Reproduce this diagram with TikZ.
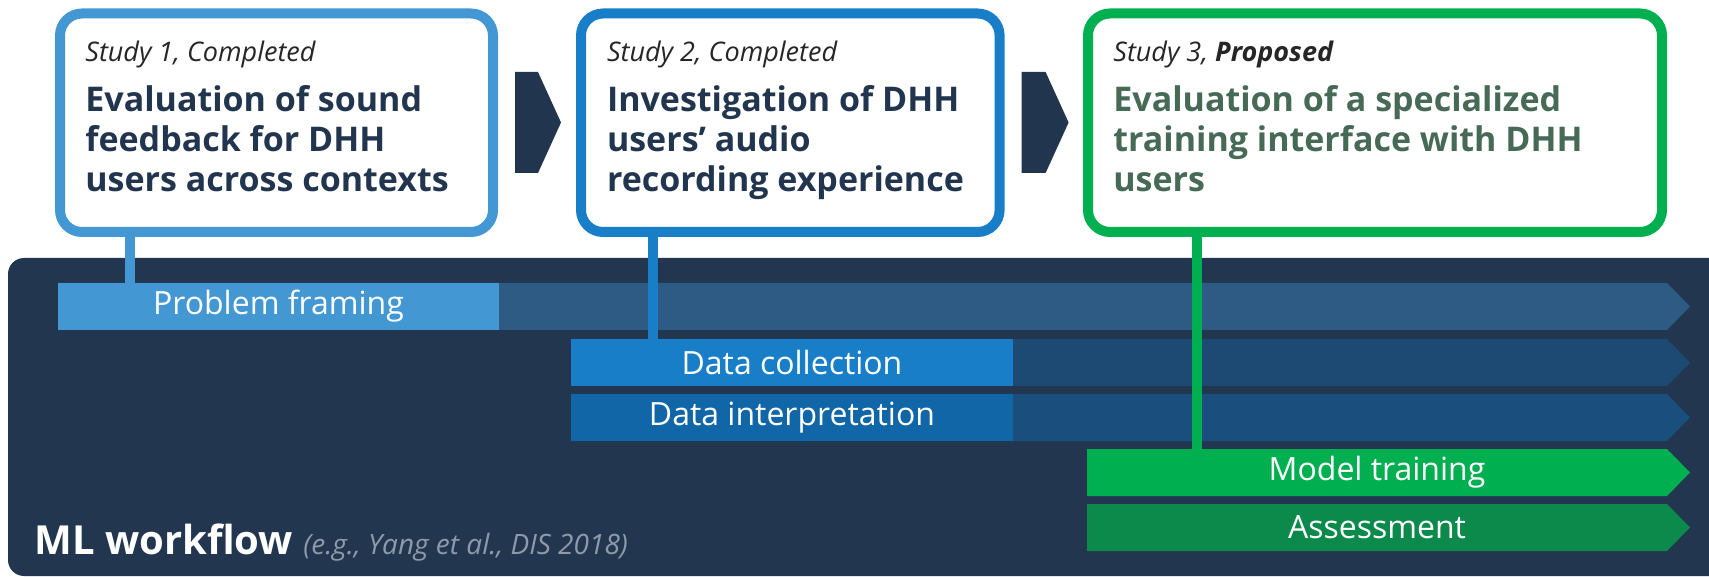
\documentclass[tikz,border=0pt]{standalone}
\usepackage{fontspec}
\usepackage{xcolor}
\usepackage{tikz}
\setmainfont{Open Sans}

\definecolor{panelnavy}{HTML}{22364F}
\definecolor{titlenavy}{HTML}{22354F}
\definecolor{studyone}{HTML}{4397D2}
\definecolor{studytwo}{HTML}{187EC8}
\definecolor{studytwob}{HTML}{1066A6}
\definecolor{studythree}{HTML}{00B050}
\definecolor{studythreeb}{HTML}{0B8A4C}
\definecolor{darkone}{HTML}{2E5B84}
\definecolor{darktwo}{HTML}{1D4A73}
\definecolor{darkthree}{HTML}{1A4E7C}
\definecolor{proposedtext}{HTML}{466A56}
\definecolor{citegray}{HTML}{8F9AA8}

\tikzset{
    studybox/.style={draw, line width=5pt, fill=white, rounded corners=11pt,
        inner sep=0pt, outer sep=0pt, minimum height=109.25pt},
    studylabel/.style={anchor=base west, inner sep=0pt, text=black!85,
        font=\fontsize{13.5}{16}\selectfont\itshape},
    studytitle/.style={anchor=base west, inner sep=0pt, align=left,
        font=\fontsize{17}{20}\selectfont\bfseries},
    barlabel/.style={inner sep=0pt, outer sep=0pt, text=white,
        minimum height=23.5pt, font=\fontsize{16}{19}\selectfont},
    link/.style={line width=5pt}
}

\begin{document}
\begin{tikzpicture}[x=0.5pt, y=-0.5pt]
    \useasboundingbox (0,0) rectangle (1709,577);

    % Draw the workflow panel
    \begin{scope}
        \clip (0,0) rectangle (1709,577);
        \fill[panelnavy, rounded corners=8pt] (8,258) rectangle (1760,576);
    \end{scope}

    % Stage bars with their arrow tips
    \fill[darkone]   (58,283)  -- (1667,283) -- (1690,306.5) -- (1667,330) -- (58,330) -- cycle;
    \fill[darktwo]   (571,339) -- (1667,339) -- (1690,362.5) -- (1667,386) -- (571,386) -- cycle;
    \fill[darkthree] (571,394) -- (1667,394) -- (1690,417.5) -- (1667,441) -- (571,441) -- cycle;
    \fill[studythree]  (1087,449) -- (1667,449) -- (1690,472.5) -- (1667,496) -- (1087,496) -- cycle;
    \fill[studythreeb] (1087,504) -- (1667,504) -- (1690,527.5) -- (1667,551) -- (1087,551) -- cycle;

    \node[barlabel, fill=studyone,  minimum width=220.5pt] (framing) at (278.5,306.5) {Problem framing};
    \node[barlabel, fill=studytwo,  minimum width=221pt] (collection) at (792,362.5) {Data collection};
    \node[barlabel, fill=studytwob, minimum width=221pt] (interpretation) at (792,417.5) {Data interpretation};
    \node[barlabel, minimum width=290pt] (training) at (1377,472.5) {Model training};
    \node[barlabel, minimum width=290pt] (assessment) at (1377,527.5) {Assessment};

    % Workflow caption
    \node[anchor=base west, inner sep=0pt, text=white, font=\fontsize{20}{24}\selectfont\bfseries]
        (workflow) at (34,554) {ML workflow {\fontsize{14}{16}\selectfont\mdseries\itshape\color{citegray}(e.g., Yang et al., DIS 2018)}};

    % The three studies
    \node[studybox, draw=studyone,   minimum width=216.5pt] (s1) at (276.5,122.75) {};
    \node[studybox, draw=studytwo,   minimum width=209.3pt] (s2) at (790.3,122.75) {};
    \node[studybox, draw=studythree, minimum width=287pt]   (s3) at (1375,122.75) {};

    \node[studylabel] (s1lab) at (85,62) {Study 1, Completed};
    \node[studytitle, text=titlenavy] (s1title) at (85,192)
        {Evaluation of sound\\feedback for DHH\\users across contexts};
    \node[studylabel] (s2lab) at (606.6,62) {Study 2, Completed};
    \node[studytitle, text=titlenavy] (s2title) at (606.6,192)
        {Investigation of DHH\\users’ audio\\recording experience};
    \node[studylabel] (s3lab) at (1113,62) {Study 3, \textbf{Proposed}};
    \node[studytitle, text=proposedtext] (s3title) at (1113,192)
        {Evaluation of a specialized\\training interface with DHH\\users};

    % Arrows between the studies
    \fill[titlenavy] (515,72) -- (538,72) -- (561,122.5) -- (538,173) -- (515,173) -- cycle;
    \fill[titlenavy] (1021.5,72) -- (1045.6,72) -- (1068.6,122.5) -- (1045.6,173) -- (1021.5,173) -- cycle;

    % Link each study to the stage it covers
    \coordinate (l1) at (129.5,283);
    \coordinate (l2) at (653,339);
    \coordinate (l3) at (1197,449);
    \draw[link, studyone]   (s1.south -| l1) -- (l1);
    \draw[link, studytwo]   (s2.south -| l2) -- (l2);
    \draw[link, studythree] (s3.south -| l3) -- (l3);
\end{tikzpicture}
\end{document}
